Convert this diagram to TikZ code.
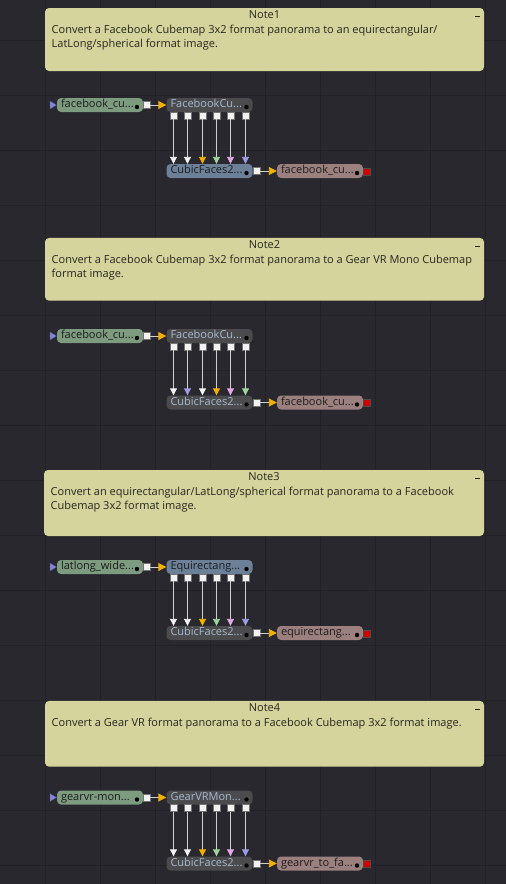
\documentclass[tikz,border=0pt]{standalone}
\usepackage{fontspec}
\setmainfont{Open Sans}
\usetikzlibrary{arrows.meta}
\definecolor{bg}{HTML}{28282E}
\definecolor{gridc}{HTML}{212126}
\definecolor{notefill}{HTML}{D4D49C}
\definecolor{notetxt}{HTML}{262620}
\definecolor{loaderc}{HTML}{7D9B7E}
\definecolor{toolc}{HTML}{4B4B4D}
\definecolor{bluec}{HTML}{6C8098}
\definecolor{saverc}{HTML}{9C807E}
\definecolor{lighttxt}{HTML}{A6BAD2}
\definecolor{darktxt}{HTML}{1C1C1E}
\definecolor{linkc}{HTML}{CFCFCF}
\definecolor{tipwhite}{HTML}{F2F2F2}
\definecolor{tipgold}{HTML}{F2B000}
\definecolor{tipgreen}{HTML}{9CD49C}
\definecolor{tippink}{HTML}{E6A6E6}
\definecolor{tipblue}{HTML}{9C9CE6}
\definecolor{intric}{HTML}{8585DA}
\definecolor{redc}{HTML}{CC0000}
\begin{document}
\begin{tikzpicture}[x=1pt,y=-1pt]
	\tikzstyle{gridline} = [draw=gridc, line width=0.8pt]
	\tikzstyle{notebox} = [fill=notefill, rounded corners=4pt, inner sep=0pt]
	\tikzstyle{notetitle} = [inner sep=0pt, text=notetxt, font=\fontsize{11}{14}\selectfont]
	\tikzstyle{notemin} = [fill=notetxt, minimum width=5pt, minimum height=1.8pt, inner sep=0pt]
	\tikzstyle{notetext} = [anchor=north west, align=left, inner sep=0pt, text=notetxt, font=\fontsize{11}{14}\selectfont]
	\tikzstyle{flow} = [rounded corners=4pt, minimum height=14pt, text width=78pt, align=left,
		inner xsep=4pt, inner ysep=0pt, text height=8pt, text depth=2.5pt, font=\fontsize{11}{12}\selectfont,
		path picture={\fill[black] ([xshift=-6pt,yshift=-2pt]path picture bounding box.east) circle (2.2pt);}]
	\tikzstyle{loader} = [flow, fill=loaderc, text=darktxt]
	\tikzstyle{toolgray} = [flow, fill=toolc, text=lighttxt]
	\tikzstyle{toolblue} = [flow, fill=bluec, text=darktxt]
	\tikzstyle{saver} = [flow, fill=saverc, text=darktxt]
	\tikzstyle{portsq} = [fill=tipwhite, draw=black!55, line width=0.3pt, minimum size=7pt, inner sep=0pt]
	\tikzstyle{redsq} = [fill=redc, draw=black!70, line width=0.3pt, minimum size=7pt, inner sep=0pt]
	\tikzstyle{intri} = [fill=intric, draw=intric!60!black, line width=0.3pt]
	\tikzstyle{link} = [draw=linkc, line width=0.9pt]
	\tikzstyle{togold} = [-{Triangle[length=8pt,width=8pt,color=tipgold]}]
	\tikzstyle{towhite} = [-{Triangle[length=7pt,width=7pt,color=tipwhite]}]
	\tikzstyle{toorange} = [-{Triangle[length=7pt,width=7pt,color=tipgold]}]
	\tikzstyle{togreen} = [-{Triangle[length=7pt,width=7pt,color=tipgreen]}]
	\tikzstyle{topink} = [-{Triangle[length=7pt,width=7pt,color=tippink]}]
	\tikzstyle{toblue} = [-{Triangle[length=7pt,width=7pt,color=tipblue]}]
	\useasboundingbox (0,0) rectangle (506,884);
	\fill[bg] (0,0) rectangle (506,884);
	\begin{scope}
		\clip (0,0) rectangle (506,884);
		\draw[gridline, shift={(45.7,40)}, xstep=55pt, ystep=55pt] (-55,850) grid (465,-55);
	\end{scope}
	% Note1 : facebook cubemap to latlong
	\node[notebox, minimum width=439, minimum height=63] (note1) at (264.5,39.5) {};
	\node[notetitle] (note1h) at (264.5,14.5) {Note1};
	\node[notemin] (note1m) at (477.5,16.5) {};
	\node[notetext] (note1t) at (51.5,25) {Convert a Facebook Cubemap 3x2 format panorama to an equirectangular/\\LatLong/spherical format image.};
	\filldraw[intri] (50,101) -- (56.5,105) -- (50,109) -- cycle;
	\node[loader] (in1) at (100,105) {facebook\_cu...};
	\node[portsq] (in1o) at (146.5,105) {};
	\node[toolgray] (fb1) at (209.5,105) {FacebookCu...};
	\node[portsq] (s1a) at (173.5,115.5) {};
	\node[portsq] (s1b) at (187.5,115.5) {};
	\node[portsq] (s1c) at (202.5,115.5) {};
	\node[portsq] (s1d) at (216.5,115.5) {};
	\node[portsq] (s1e) at (230.5,115.5) {};
	\node[portsq] (s1f) at (245.5,115.5) {};
	\node[toolblue] (cf1) at (209.5,171) {CubicFaces2...};
	\node[portsq] (cf1o) at (256.5,171) {};
	\node[saver] (out1) at (320,171) {facebook\_cu...};
	\node[redsq] (out1r) at (366.5,171.5) {};
	\draw[link,togold] (in1o) -- (fb1);
	\draw[link,towhite] (s1a) -- (s1a |- cf1.north);
	\draw[link,towhite] (s1b) -- (s1b |- cf1.north);
	\draw[link,toorange] (s1c) -- (s1c |- cf1.north);
	\draw[link,togreen] (s1d) -- (s1d |- cf1.north);
	\draw[link,topink] (s1e) -- (s1e |- cf1.north);
	\draw[link,toblue] (s1f) -- (s1f |- cf1.north);
	\draw[link,togold] (cf1o) -- (out1);
	% Note2 : facebook cubemap to gear vr
	\begin{scope}[shift={(0,231)}]
	\node[notebox, minimum width=439, minimum height=62.7] (note2) at (264.5,38.3) {};
	\node[notetitle] (note2h) at (264.5,13.5) {Note2};
	\node[notemin] (note2m) at (477.5,15.5) {};
	\node[notetext] (note2t) at (51.5,24) {Convert a Facebook Cubemap 3x2 format panorama to a Gear VR Mono Cubemap\\format image.};
	\filldraw[intri] (50,101) -- (56.5,105) -- (50,109) -- cycle;
	\node[loader] (in2) at (100,105) {facebook\_cu...};
	\node[portsq] (in2o) at (146.5,105) {};
	\node[toolgray] (fb2) at (209.5,105) {FacebookCu...};
	\node[portsq] (s2a) at (173.5,115.5) {};
	\node[portsq] (s2b) at (187.5,115.5) {};
	\node[portsq] (s2c) at (202.5,115.5) {};
	\node[portsq] (s2d) at (216.5,115.5) {};
	\node[portsq] (s2e) at (230.5,115.5) {};
	\node[portsq] (s2f) at (245.5,115.5) {};
	\node[toolgray] (cf2) at (209.5,171.5) {CubicFaces2...};
	\node[portsq] (cf2o) at (256.5,171.5) {};
	\node[saver] (out2) at (320,171.5) {facebook\_cu...};
	\node[redsq] (out2r) at (366.5,172) {};
	\draw[link,togold] (in2o) -- (fb2);
	\draw[link,towhite] (s2a) -- (s2a |- cf2.north);
	\draw[link,toblue] (s2b) -- (s2b |- cf2.north);
	\draw[link,towhite] (s2c) -- (s2c |- cf2.north);
	\draw[link,toorange] (s2d) -- (s2d |- cf2.north);
	\draw[link,topink] (s2e) -- (s2e |- cf2.north);
	\draw[link,togreen] (s2f) -- (s2f |- cf2.north);
	\draw[link,togold] (cf2o) -- (out2);
	\end{scope}
	% Note3 : latlong to facebook cubemap
	\begin{scope}[shift={(0,462)}]
	\node[notebox, minimum width=440, minimum height=66] (note3) at (264,41) {};
	\node[notetitle] (note3h) at (264,14.5) {Note3};
	\node[notemin] (note3m) at (477,16.5) {};
	\node[notetext] (note3t) at (50.5,25) {Convert an equirectangular/LatLong/spherical format panorama to a Facebook\\Cubemap 3x2 format image.};
	\filldraw[intri] (50,101) -- (56.5,105) -- (50,109) -- cycle;
	\node[loader] (in3) at (100,105) {latlong\_wide...};
	\node[portsq] (in3o) at (146.5,105) {};
	\node[toolblue] (eq3) at (209.5,105) {Equirectang...};
	\node[portsq] (s3a) at (173.5,115.5) {};
	\node[portsq] (s3b) at (187.5,115.5) {};
	\node[portsq] (s3c) at (202.5,115.5) {};
	\node[portsq] (s3d) at (216.5,115.5) {};
	\node[portsq] (s3e) at (230.5,115.5) {};
	\node[portsq] (s3f) at (245.5,115.5) {};
	\node[toolgray] (cf3) at (209.5,171) {CubicFaces2...};
	\node[portsq] (cf3o) at (256.5,171) {};
	\node[saver] (out3) at (320,171) {equirectang...};
	\node[redsq] (out3r) at (366.5,171.5) {};
	\draw[link,togold] (in3o) -- (eq3);
	\draw[link,towhite] (s3a) -- (s3a |- cf3.north);
	\draw[link,towhite] (s3b) -- (s3b |- cf3.north);
	\draw[link,toorange] (s3c) -- (s3c |- cf3.north);
	\draw[link,togreen] (s3d) -- (s3d |- cf3.north);
	\draw[link,topink] (s3e) -- (s3e |- cf3.north);
	\draw[link,toblue] (s3f) -- (s3f |- cf3.north);
	\draw[link,togold] (cf3o) -- (out3);
	\end{scope}
	% Note4 : gear vr to facebook cubemap
	\begin{scope}[shift={(0,693)}]
	\node[notebox, minimum width=439, minimum height=65.7] (note4) at (264.5,40.8) {};
	\node[notetitle] (note4h) at (264.5,14.5) {Note4};
	\node[notemin] (note4m) at (477.5,16.5) {};
	\node[notetext] (note4t) at (51.5,25) {Convert a Gear VR format panorama to a Facebook Cubemap 3x2 format image.};
	\filldraw[intri] (50,100.5) -- (56.5,104.5) -- (50,108.5) -- cycle;
	\node[loader] (in4) at (100,104.5) {gearvr-mon...};
	\node[portsq] (in4o) at (146.5,104.5) {};
	\node[toolgray] (gv4) at (209.5,104.5) {GearVRMon...};
	\node[portsq] (s4a) at (173.5,115) {};
	\node[portsq] (s4b) at (187.5,115) {};
	\node[portsq] (s4c) at (202.5,115) {};
	\node[portsq] (s4d) at (216.5,115) {};
	\node[portsq] (s4e) at (230.5,115) {};
	\node[portsq] (s4f) at (245.5,115) {};
	\node[toolgray] (cf4) at (209.5,170.5) {CubicFaces2...};
	\node[portsq] (cf4o) at (256.5,170.5) {};
	\node[saver] (out4) at (320,170.5) {gearvr\_to\_fa...};
	\node[redsq] (out4r) at (366.5,171) {};
	\draw[link,togold] (in4o) -- (gv4);
	\draw[link,towhite] (s4a) -- (s4a |- cf4.north);
	\draw[link,towhite] (s4b) -- (s4b |- cf4.north);
	\draw[link,toorange] (s4c) -- (s4c |- cf4.north);
	\draw[link,togreen] (s4d) -- (s4d |- cf4.north);
	\draw[link,topink] (s4e) -- (s4e |- cf4.north);
	\draw[link,toblue] (s4f) -- (s4f |- cf4.north);
	\draw[link,togold] (cf4o) -- (out4);
	\end{scope}
\end{tikzpicture}
\end{document}
